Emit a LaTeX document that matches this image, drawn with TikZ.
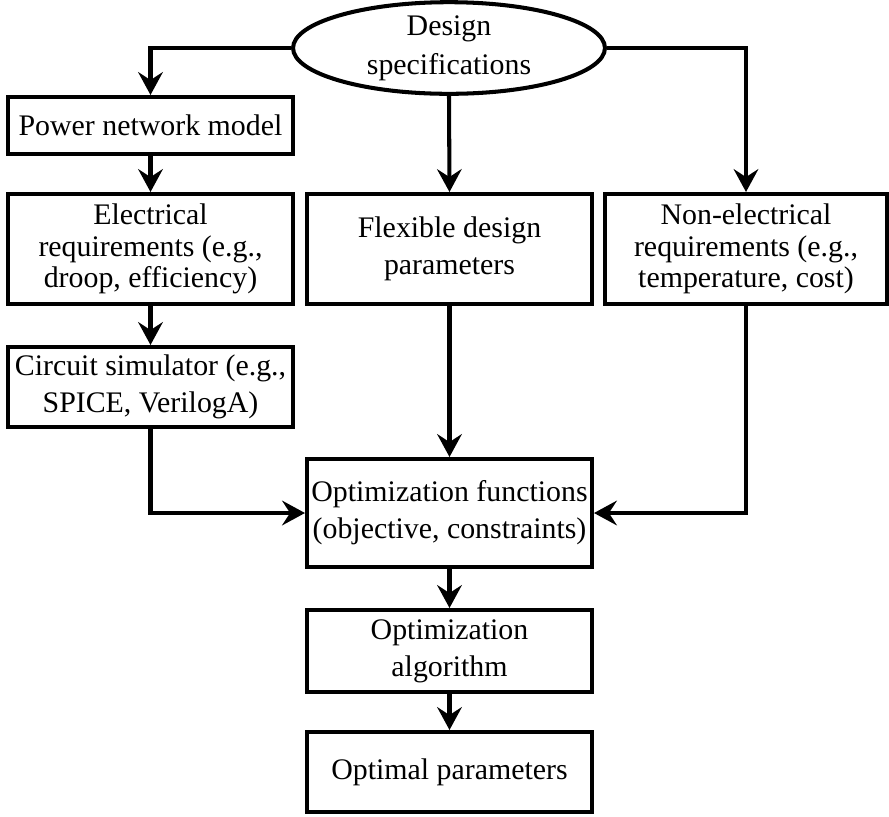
\documentclass[tikz,border=0pt]{standalone}
\usepackage{fontspec}
\setmainfont{Liberation Serif}
\usepackage{tikz}
\usetikzlibrary{arrows.meta,shapes.geometric}

\begin{document}
\begin{tikzpicture}[->,>={Stealth[length=13pt,width=14pt,inset=4.5pt]}
  ,x=0.02cm,y=-0.02cm
  ,line width=2.3pt]
  \tikzstyle{block}
  =[draw,rectangle,align=center,inner sep=2pt
  ,minimum width=5.7cm,font=\fontsize{17}{21}\selectfont]
  \tikzstyle{tight}=[font=\fontsize{17}{18}\selectfont]
  \tikzstyle{spec}
  =[draw,ellipse,align=center,inner sep=0pt
  ,minimum width=6.24cm,minimum height=1.8cm
  ,font=\fontsize{17}{22}\selectfont]

  \useasboundingbox (0,0) rectangle (889,816);

  \node[spec](design) at (449,48) {Design\\specifications};
  \node[block,minimum height=1.14cm](power) at (150.5,125.5) {Power network model};
  \node[block,tight,minimum height=2.2cm](elec) at (150.5,249)
    {Electrical\\requirements (e.g.,\\droop, efficiency)};
  \node[block,minimum height=2.2cm](flex) at (449.5,249) {Flexible design\\parameters};
  \node[block,tight,minimum height=2.2cm,minimum width=5.64cm](nonelec) at (746,249)
    {Non-electrical\\requirements (e.g.,\\temperature, cost)};
  \node[block,minimum height=1.6cm](circ) at (150.5,387)
    {Circuit simulator (e.g.,\\SPICE, VerilogA)};
  \node[block,minimum height=2.16cm](optfun) at (449.5,513)
    {Optimization functions\\(objective, constraints)};
  \node[block,minimum height=1.64cm](optalg) at (449.5,651) {Optimization\\algorithm};
  \node[block,minimum height=1.6cm](optpar) at (449.5,772) {Optimal parameters};

  \draw (design.west) -| (power.north);
  \draw (design.east) -| (nonelec.north);
  \draw (design.south) -- (flex.north);
  \draw (power) -- (elec);
  \draw (elec) -- (circ);
  \draw (circ.south) |- (optfun.west);
  \draw (flex) -- (optfun);
  \draw (nonelec.south) |- (optfun.east);
  \draw (optfun) -- (optalg);
  \draw (optalg) -- (optpar);

\end{tikzpicture}
\end{document}
